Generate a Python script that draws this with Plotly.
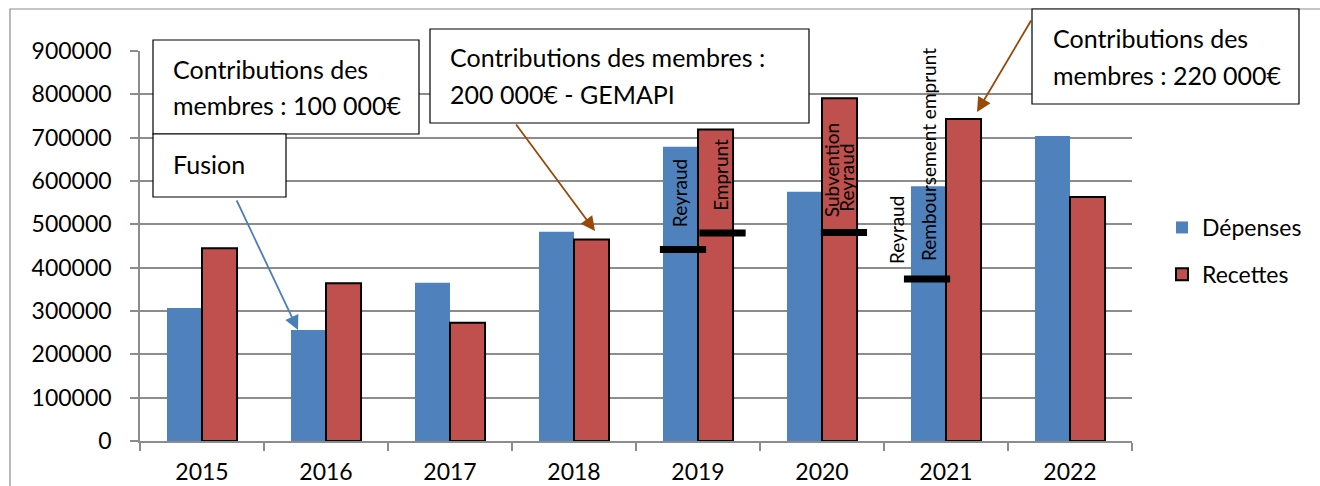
import plotly.graph_objects as go

years = ["2015", "2016", "2017", "2018", "2019", "2020", "2021", "2022"]
depenses = [307000, 256000, 365000, 483000, 679000, 575000, 588000, 704000]
recettes = [445000, 364000, 273000, 465000, 719000, 791000, 743000, 563000]

# Black level marks: year index, offset within the category, value
mark_year = [4, 4, 5, 6]
mark_offset = [-0.121, 0.198, 0.177, -0.153]
mark_value = [442000, 480000, 481000, 374000]

# Rotated labels: year index, offset within the category, value at centre, text
lab_year = [4, 4, 5, 5, 6, 6]
lab_offset = [-0.153, 0.185, 0.073, 0.2, -0.395, -0.145]
lab_value = [572000, 614000, 625000, 607000, 487000, 660000]
lab_text = ["Reyraud", "Emprunt", "Subvention", "Reyraud", "Reyraud", "Remboursement emprunt"]

BLUE = "#4F81BD"
RED = "#C0504D"
GRID = "#8c8c8c"
FONT = "Lato"

W, H = 1320, 486
L, R, T, B = 140, 1132, 51, 441


def px(x):
    return (x - L) / (R - L)


def py(y):
    return (B - y) / (B - T)


fig = go.Figure()
fig.add_trace(go.Bar(x=years, y=depenses, name="Dépenses", marker=dict(color=BLUE, line=dict(width=0)),
                     legendgroup="a"))
fig.add_trace(go.Bar(x=years, y=recettes, name="Recettes", marker=dict(color=RED, line=dict(color="black", width=2)),
                     legendgroup="b"))

fig.add_trace(go.Scatter(
    x=[yi + o for yi, o in zip(mark_year, mark_offset)], y=mark_value,
    mode="markers", xaxis="x2", showlegend=False, hoverinfo="skip",
    marker=dict(symbol="line-ew", size=33, line=dict(color="black", width=7)),
    cliponaxis=False))

annotations = []
for yi, o, v, t in zip(lab_year, lab_offset, lab_value, lab_text):
    annotations.append(dict(x=yi + o, y=v, xref="x2", yref="y", text=t, showarrow=False,
                            textangle=-90, font=dict(family=FONT, size=19, color="black"),
                            xanchor="center", yanchor="middle"))

shapes = []
# outer border
shapes.append(dict(type="rect", xref="paper", yref="paper", x0=px(10), x1=px(1360), y0=py(9), y1=py(540),
                   line=dict(color=GRID, width=1.2), layer="below"))


def box(x0, y0, x1, y1):
    shapes.append(dict(type="rect", xref="paper", yref="paper", x0=px(x0), x1=px(x1), y0=py(y0), y1=py(y1),
                       line=dict(color="black", width=1.2), fillcolor="white", layer="above"))


def line_text(x, y, t):
    annotations.append(dict(x=px(x), y=py(y), xref="paper", yref="paper", text=t, showarrow=False,
                            xanchor="left", yanchor="middle",
                            font=dict(family=FONT, size=25, color="black")))


def arrow(x0, y0, x1, y1, color):
    annotations.append(dict(x=px(x1), y=py(y1), xref="paper", yref="paper", ax=x0 - x1, ay=y0 - y1,
                            axref="pixel", ayref="pixel", text="", showarrow=True, arrowhead=2,
                            arrowsize=1.6, arrowwidth=1.8, arrowcolor=color))


arrow(236, 199, 298, 330, "#4A7EBB")
arrow(515, 123, 595, 231, "#984807")
arrow(1032, 19, 977, 112, "#984807")

box(153, 40, 419, 134)
box(153, 134, 286, 197)
box(430, 29, 809, 123)
box(1032, 9, 1299, 104)

line_text(171, 69, "Contributions des")
line_text(171, 105, "membres : 100 000€")
line_text(171, 164, "Fusion")
line_text(448, 57, "Contributions des membres :")
line_text(448, 94, "200 000€ - GEMAPI")
line_text(1051, 38, "Contributions des")
line_text(1051, 75, "membres : 220 000€")

fig.update_layout(
    width=W, height=H,
    margin=dict(l=L, r=W - R, t=T, b=H - B, autoexpand=False),
    paper_bgcolor="white", plot_bgcolor="white",
    barmode="group", bargap=0.435, bargroupgap=0,
    font=dict(family=FONT, size=22, color="black"),
    xaxis=dict(type="category", tickson="boundaries", ticks="outside", ticklen=8, tickcolor=GRID,
               tickwidth=1.5, showline=True, linecolor=GRID, linewidth=1.5, showgrid=False,
               tickfont=dict(family=FONT, size=23), ticklabelstandoff=10, range=[-0.5, 7.5],
               automargin=False),
    xaxis2=dict(overlaying="x", range=[-0.5, 7.5], visible=False),
    yaxis=dict(range=[0, 900000], dtick=100000, ticks="outside", ticklen=8, tickcolor=GRID, tickwidth=1.5,
               showline=True, linecolor=GRID, linewidth=1.5, showgrid=True, gridcolor=GRID, gridwidth=1.5,
               zeroline=False, tickformat="d", tickfont=dict(family=FONT, size=23), ticklabelstandoff=14,
               automargin=False),
    legend=dict(x=px(1162), y=py(206), xanchor="left", yanchor="top", traceorder="grouped",
                tracegroupgap=14, font=dict(family=FONT, size=23), bgcolor="rgba(0,0,0,0)"),
    shapes=shapes, annotations=annotations,
)

fig.write_html("out.html", post_script="document.body.style.margin='0';",
               config={"displayModeBar": False})
